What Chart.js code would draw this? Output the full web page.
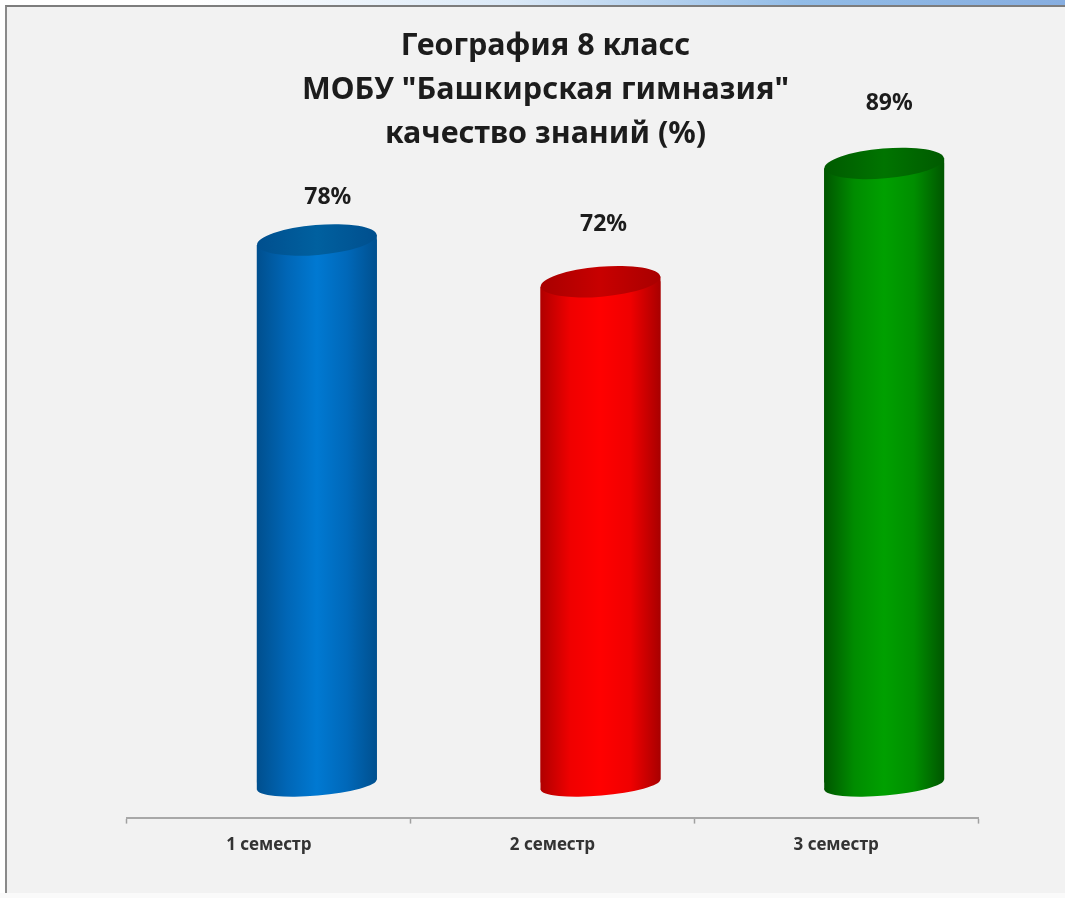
<!DOCTYPE html>
<html><head><meta charset="utf-8">
<style>
html,body{margin:0;padding:0;width:1065px;height:898px;overflow:hidden;background:linear-gradient(90deg,#fff 0,#fff 18%,#dbe9f7 48%,#92bce7 75%,#87aee0 100%)}
#frame{position:absolute;left:5px;top:5px;width:1060px;height:888px;background:#f2f2f2;border-top:2px solid #7d7d7d;border-left:2px solid #8a8a8a;box-sizing:border-box}
#bottom{position:absolute;left:0;top:893px;width:1065px;height:5px;background:#fafafa}
canvas{position:absolute;left:0;top:0}
</style>
<script src="https://cdn.jsdelivr.net/npm/chart.js@4/dist/chart.umd.min.js"></script>
</head><body>
<div id="frame"></div><div id="bottom"></div>
<canvas id="c" width="1065" height="898"></canvas>
<script>
const categories = ["1 семестр","2 семестр","3 семестр"];
const values = [78,72,89];
const titleLines = ['География 8 класс','МОБУ "Башкирская гимназия"','качество знаний (%)'];
const bodyStops = [
 ['#004f8e','#0066b6','#0079d2','#0068b9','#00508f'],
 ['#b00000','#f00000','#ff0000','#f00000','#a80000'],
 ['#005600','#008c00','#00a000','#008e00','#005600']
];
const capColors = [['#004f8e','#00609f'],['#a80000','#c80000'],['#005a00','#007400']];
const labelNudge = [[11,-42],[3,-57],[5,-60]];

const SHIFT_X = 48, SHIFT_Y = -35, RX = 60, RY = 15, TILT = -0.085, TITLE_SHIFT = 7;
function grad(ctx, el, i){
  const g = ctx.createLinearGradient(el.x-RX,0,el.x+RX,0);
  bodyStops[i].forEach((c,k)=>g.addColorStop(k/4,c));
  return g;
}
function ell(ctx,x,y,ry){ctx.beginPath();ctx.ellipse(x,y,RX,ry,TILT,0,Math.PI*2);}
function side(ctx,el){
  const d = RX*Math.tan(-TILT);
  ctx.moveTo(el.x-RX,el.y+d);ctx.lineTo(el.x+RX,el.y-d);
  ctx.lineTo(el.x+RX,el.base+2-d);ctx.lineTo(el.x-RX,el.base+2+d);ctx.closePath();
}
const cylinder = {
  id:'cylinder',
  afterLayout(chart){
    chart.titleBlock.left -= TITLE_SHIFT;
    chart.titleBlock.right -= TITLE_SHIFT;
  },
  beforeDatasetsDraw(chart){
    const ctx = chart.ctx, bars = chart.getDatasetMeta(0).data;
    ctx.save();
    ctx.translate(SHIFT_X,SHIFT_Y);
    bars.forEach((el,i)=>{
      ctx.fillStyle = grad(ctx,el,i);
      ell(ctx,el.x,el.base+2,11);ctx.fill();
      ctx.beginPath();side(ctx,el);ctx.fill();
    });
    ctx.beginPath();
    bars.forEach(el=>side(ctx,el));
    ctx.clip();
  },
  afterDatasetsDraw(chart){
    const ctx = chart.ctx, bars = chart.getDatasetMeta(0).data;
    ctx.restore();
    ctx.save();
    ctx.translate(SHIFT_X,SHIFT_Y);
    bars.forEach((el,i)=>{
      const g = ctx.createLinearGradient(el.x-RX,0,el.x+RX,0);
      g.addColorStop(0,capColors[i][0]);g.addColorStop(.5,capColors[i][1]);g.addColorStop(1,capColors[i][0]);
      ctx.fillStyle = g;
      ell(ctx,el.x,el.y,RY);ctx.fill();
    });
    ctx.restore();
    ctx.save();
    ctx.fillStyle='#1c1c1c';
    ctx.font='bold 23px "Noto Sans"';
    ctx.textAlign='center';ctx.textBaseline='middle';
    bars.forEach((el,i)=>{
      ctx.fillText(values[i]+'%',el.x+SHIFT_X+labelNudge[i][0],el.y+SHIFT_Y+labelNudge[i][1]);
    });
    ctx.restore();
  }
};
new Chart(document.getElementById('c'),{
  type:'bar',
  data:{labels:categories,datasets:[{data:values,barThickness:120,borderWidth:0,
    backgroundColor:(c)=>{
      if(!c.chart.chartArea||c.dataIndex===undefined) return '#888';
      const x=c.chart.scales.x.getPixelForValue(c.dataIndex);
      return grad(c.chart.ctx,{x},c.dataIndex);
    }}]},
  options:{
    responsive:false,animation:false,
    layout:{padding:{left:127,right:87,top:24,bottom:32}},
    plugins:{
      legend:{display:false},tooltip:{enabled:false},
      title:{display:true,text:titleLines,color:'#1c1c1c',
        font:{family:'"Noto Sans"',size:30.5,weight:'bold',lineHeight:1.45},
        padding:{top:0,bottom:0}}
    },
    scales:{
      x:{grid:{display:true,drawOnChartArea:false,color:'#a0a0a0',tickLength:6,tickWidth:1.5},
         border:{color:'#a8a8a8',width:2},
         ticks:{color:'#333333',font:{family:'"Noto Sans"',size:17,weight:'bold'},padding:11,maxRotation:0}},
      y:{display:false,min:0,max:95}
    }
  },
  plugins:[cylinder]
});
</script>
</body></html>
